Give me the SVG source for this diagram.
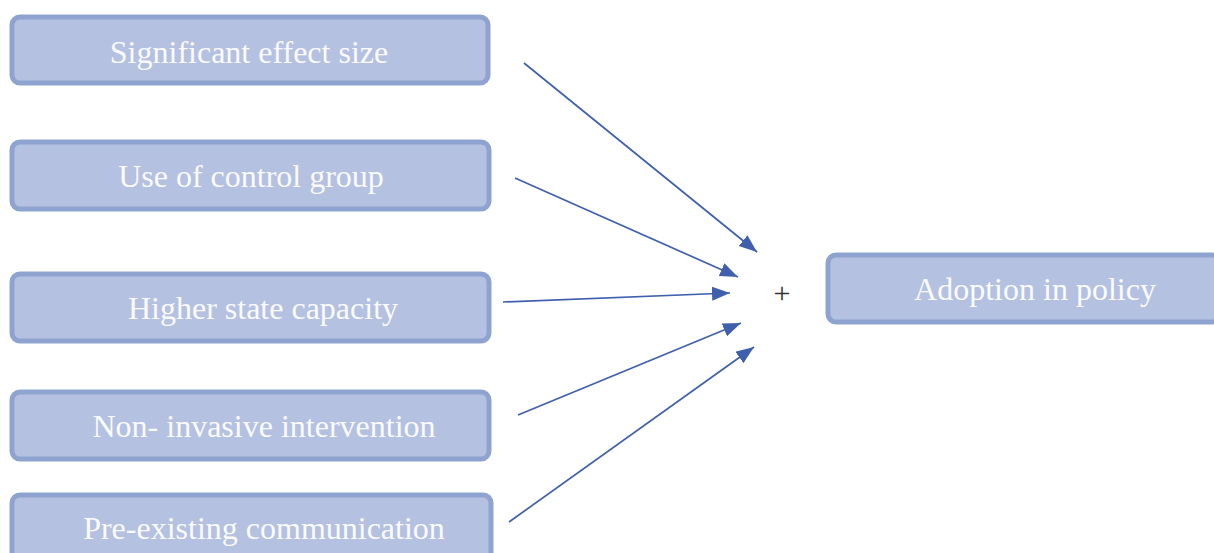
<svg xmlns="http://www.w3.org/2000/svg" width="1214" height="553" viewBox="0 0 1214 553">
<style>
.box{fill:#b5c1e0;stroke:#8fa3d0;stroke-width:5}
.lbl{font-family:"Liberation Serif",serif;font-size:32px;fill:#fafbff;text-anchor:middle}
.conn{stroke:#4060ae;stroke-width:1.7;fill:none;marker-end:url(#ah)}
</style>
<defs>
<marker id="ah" markerUnits="userSpaceOnUse" markerWidth="19" markerHeight="15" refX="18" refY="7" orient="auto">
<path d="M0,0 L18,7 L0,14 z" fill="#4060ae"/>
</marker>
</defs>
<rect width="1214" height="553" fill="#ffffff"/>
<g id="n1"><rect class="box" x="12" y="17" width="476" height="66" rx="8"/><text class="lbl" x="249" y="63">Significant effect size</text></g>
<g id="n2"><rect class="box" x="12" y="142" width="477" height="67" rx="8"/><text class="lbl" x="251" y="187">Use of control group</text></g>
<g id="n3"><rect class="box" x="12" y="274" width="477" height="67" rx="8"/><text class="lbl" x="263" y="319">Higher state capacity</text></g>
<g id="n4"><rect class="box" x="12" y="392" width="477" height="67" rx="8"/><text class="lbl" x="264" y="437">Non- invasive intervention</text></g>
<g id="n5"><rect class="box" x="12" y="495" width="479" height="70" rx="8"/><text class="lbl" x="264" y="539">Pre-existing communication</text></g>
<g id="n6"><rect class="box" x="828" y="255" width="392" height="67" rx="8"/><text class="lbl" x="1035" y="300">Adoption in policy</text></g>
<g id="plus"><text x="782" y="303" font-family="Liberation Serif,serif" font-size="30" fill="#333333" text-anchor="middle">+</text></g>
<g id="connectors">
<line class="conn" x1="524" y1="63" x2="757" y2="252"/>
<line class="conn" x1="515" y1="178" x2="738" y2="277"/>
<line class="conn" x1="503" y1="302" x2="730" y2="293"/>
<line class="conn" x1="518" y1="415" x2="741" y2="323"/>
<line class="conn" x1="509" y1="522" x2="754" y2="347"/>
</g>
</svg>
